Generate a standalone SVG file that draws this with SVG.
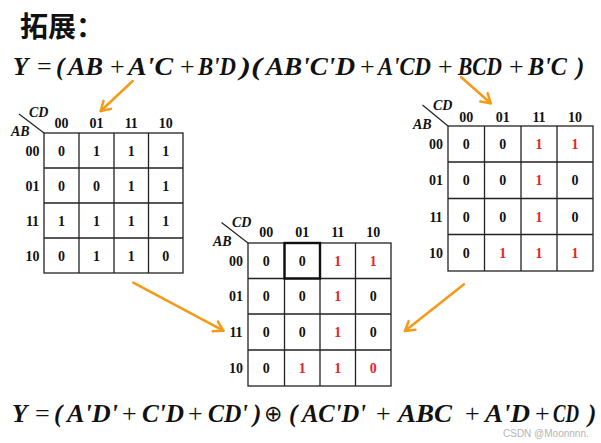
<svg xmlns="http://www.w3.org/2000/svg" width="601" height="443" viewBox="0 0 601 443">
<style>
.t{font-family:"Noto Sans CJK SC","Noto Sans",sans-serif;font-weight:700;font-size:28px;fill:#111}
.f{font-family:"Liberation Serif","Times New Roman",serif;font-weight:700;font-style:italic;font-size:25px;fill:#111}
.op{font-family:"Liberation Serif","Times New Roman",serif;font-weight:400;font-style:normal;font-size:26px;fill:#111}
.xo{font-family:"DejaVu Sans",sans-serif;font-weight:400;font-size:22px;fill:#111}
.g{fill:none;stroke:#222;stroke-width:1.3}
.hl{fill:none;stroke:#111;stroke-width:2.4}
.d{font-family:"Liberation Serif","Times New Roman",serif;font-weight:700;font-size:14px;fill:#111;text-anchor:middle}
.r{fill:#e3262a}
.lb{font-family:"Liberation Serif","Times New Roman",serif;font-weight:700;font-style:italic;font-size:14px;fill:#111}
.dg{stroke:#222;stroke-width:1.2}
.ar{stroke:#f59a17;stroke-width:2.5;fill:none;stroke-linecap:round}
.wm{font-family:"Liberation Sans",Arial,sans-serif;font-size:10px;fill:#b4b4b4}
</style>
<defs>
<marker id="ah" markerUnits="userSpaceOnUse" viewBox="0 0 14 14" refX="11" refY="7" markerWidth="14" markerHeight="14" orient="auto">
<path d="M2,1.5 L11,7 L2,12.5" fill="none" stroke="#f59a17" stroke-width="2.5" stroke-linecap="round" stroke-linejoin="round"/>
</marker>
</defs>
<rect width="601" height="443" fill="#fff"/>
<g id="title"><text class="t" x="20" y="37">拓展：</text></g>
<g id="formula-top">
<text class="f" x="13" y="75">Y</text>
<text class="op" x="37" y="75">=</text>
<text class="f" x="56" y="75">(</text>
<text class="f" x="68" y="75" textLength="35" lengthAdjust="spacingAndGlyphs">AB</text>
<text class="op" x="110" y="75">+</text>
<text class="f" x="128" y="75" textLength="45" lengthAdjust="spacingAndGlyphs">A'C</text>
<text class="op" x="180" y="75">+</text>
<text class="f" x="198" y="75" textLength="38" lengthAdjust="spacingAndGlyphs">B'D</text>
<text class="f" x="240" y="75" textLength="22" lengthAdjust="spacingAndGlyphs">)(</text>
<text class="f" x="266" y="75" textLength="89" lengthAdjust="spacingAndGlyphs">AB'C'D</text>
<text class="op" x="360" y="75">+</text>
<text class="f" x="378" y="75" textLength="53" lengthAdjust="spacingAndGlyphs">A'CD</text>
<text class="op" x="438" y="75">+</text>
<text class="f" x="458" y="75" textLength="44" lengthAdjust="spacingAndGlyphs">BCD</text>
<text class="op" x="509" y="75">+</text>
<text class="f" x="528" y="75" textLength="39" lengthAdjust="spacingAndGlyphs">B'C</text>
<text class="f" x="576" y="75">)</text>
</g>
<g id="kmap-left">
<rect class="g" x="44" y="133" width="139" height="140"/>
<path class="g" d="M79,133V273M114,133V273M148.5,133V273M44,168H183M44,203H183M44,238H183"/>
<line class="dg" x1="19" y1="114" x2="44" y2="133"/>
<text class="lb" x="29" y="117">CD</text>
<text class="lb" x="11" y="136">AB</text>
<g class="d">
<text x="61.5" y="128">00</text><text x="96.5" y="128">01</text><text x="131.25" y="128">11</text><text x="165.75" y="128">10</text>
<text x="32.5" y="155.5">00</text><text x="32.5" y="190.5">01</text><text x="32.5" y="225.5">11</text><text x="32.5" y="260.5">10</text>
<text x="61.5" y="155.5">0</text><text x="96.5" y="155.5">1</text><text x="131.25" y="155.5">1</text><text x="165.75" y="155.5">1</text>
<text x="61.5" y="190.5">0</text><text x="96.5" y="190.5">0</text><text x="131.25" y="190.5">1</text><text x="165.75" y="190.5">1</text>
<text x="61.5" y="225.5">1</text><text x="96.5" y="225.5">1</text><text x="131.25" y="225.5">1</text><text x="165.75" y="225.5">1</text>
<text x="61.5" y="260.5">0</text><text x="96.5" y="260.5">1</text><text x="131.25" y="260.5">1</text><text x="165.75" y="260.5">0</text>
</g>
</g>
<g id="kmap-right">
<rect class="g" x="448" y="126" width="145" height="145"/>
<path class="g" d="M484.5,126V271M521,126V271M557,126V271M448,162H593M448,198.5H593M448,234.5H593"/>
<line class="dg" x1="422.5" y1="105" x2="448" y2="126"/>
<text class="lb" x="433" y="110">CD</text>
<text class="lb" x="413" y="129">AB</text>
<g class="d">
<text x="466.25" y="122">00</text><text x="502.75" y="122">01</text><text x="539" y="122">11</text><text x="575" y="122">10</text>
<text x="436" y="149">00</text><text x="436" y="185">01</text><text x="436" y="221.5">11</text><text x="436" y="257.5">10</text>
<text x="466.25" y="149">0</text><text x="502.75" y="149">0</text><text class="r" x="539" y="149">1</text><text class="r" x="575" y="149">1</text>
<text x="466.25" y="185">0</text><text x="502.75" y="185">0</text><text class="r" x="539" y="185">1</text><text x="575" y="185">0</text>
<text x="466.25" y="221.5">0</text><text x="502.75" y="221.5">0</text><text class="r" x="539" y="221.5">1</text><text x="575" y="221.5">0</text>
<text x="466.25" y="257.5">0</text><text class="r" x="502.75" y="257.5">1</text><text class="r" x="539" y="257.5">1</text><text class="r" x="575" y="257.5">1</text>
</g>
</g>
<g id="kmap-middle">
<rect class="g" x="248" y="243" width="143" height="143"/>
<path class="g" d="M284.5,243V386M320,243V386M355.5,243V386M248,278.5H391M248,314H391M248,350H391"/>
<rect class="hl" x="284.5" y="243" width="35.5" height="35.5"/>
<line class="dg" x1="221.5" y1="222.5" x2="248" y2="243"/>
<text class="lb" x="232" y="227">CD</text>
<text class="lb" x="213" y="246">AB</text>
<g class="d">
<text x="266.25" y="237">00</text><text x="302.25" y="237">01</text><text x="337.75" y="237">11</text><text x="373.25" y="237">10</text>
<text x="236" y="265.75">00</text><text x="236" y="301.25">01</text><text x="236" y="337">11</text><text x="236" y="373">10</text>
<text x="266.25" y="265.75">0</text><text x="302.25" y="265.75">0</text><text class="r" x="337.75" y="265.75">1</text><text class="r" x="373.25" y="265.75">1</text>
<text x="266.25" y="301.25">0</text><text x="302.25" y="301.25">0</text><text class="r" x="337.75" y="301.25">1</text><text x="373.25" y="301.25">0</text>
<text x="266.25" y="337">0</text><text x="302.25" y="337">0</text><text class="r" x="337.75" y="337">1</text><text x="373.25" y="337">0</text>
<text x="266.25" y="373">0</text><text class="r" x="302.25" y="373">1</text><text class="r" x="337.75" y="373">1</text><text class="r" x="373.25" y="373">0</text>
</g>
</g>
<g id="connectors">
<line class="ar" x1="132.7" y1="81" x2="100.7" y2="111" marker-end="url(#ah)"/>
<line class="ar" x1="461" y1="77" x2="490.7" y2="103.3" marker-end="url(#ah)"/>
<line class="ar" x1="133.3" y1="282.7" x2="223.3" y2="330.7" marker-end="url(#ah)"/>
<line class="ar" x1="464" y1="284.3" x2="405" y2="331" marker-end="url(#ah)"/>
</g>
<g id="formula-bottom">
<text class="f" x="12" y="422">Y</text>
<text class="op" x="35" y="422">=</text>
<text class="f" x="54" y="422">(</text>
<text class="f" x="67" y="422" textLength="51" lengthAdjust="spacingAndGlyphs">A'D'</text>
<text class="op" x="122" y="422">+</text>
<text class="f" x="142" y="422" textLength="42" lengthAdjust="spacingAndGlyphs">C'D</text>
<text class="op" x="188" y="422">+</text>
<text class="f" x="208" y="422" textLength="40" lengthAdjust="spacingAndGlyphs">CD'</text>
<text class="f" x="253" y="422">)</text>
<text class="xo" x="264" y="421">⊕</text>
<text class="f" x="289" y="422">(</text>
<text class="f" x="302" y="422" textLength="64" lengthAdjust="spacingAndGlyphs">AC'D'</text>
<text class="op" x="376" y="422">+</text>
<text class="f" x="398" y="422" textLength="54" lengthAdjust="spacingAndGlyphs">ABC</text>
<text class="op" x="465" y="422">+</text>
<text class="f" x="485" y="422" textLength="45" lengthAdjust="spacingAndGlyphs">A'D</text>
<text class="op" x="535" y="422">+</text>
<text class="f" x="553" y="422" textLength="26" lengthAdjust="spacingAndGlyphs">CD</text>
<text class="f" x="588" y="422">)</text>
</g>
<text class="wm" x="503" y="437">CSDN @Moonnnn.</text>
</svg>
